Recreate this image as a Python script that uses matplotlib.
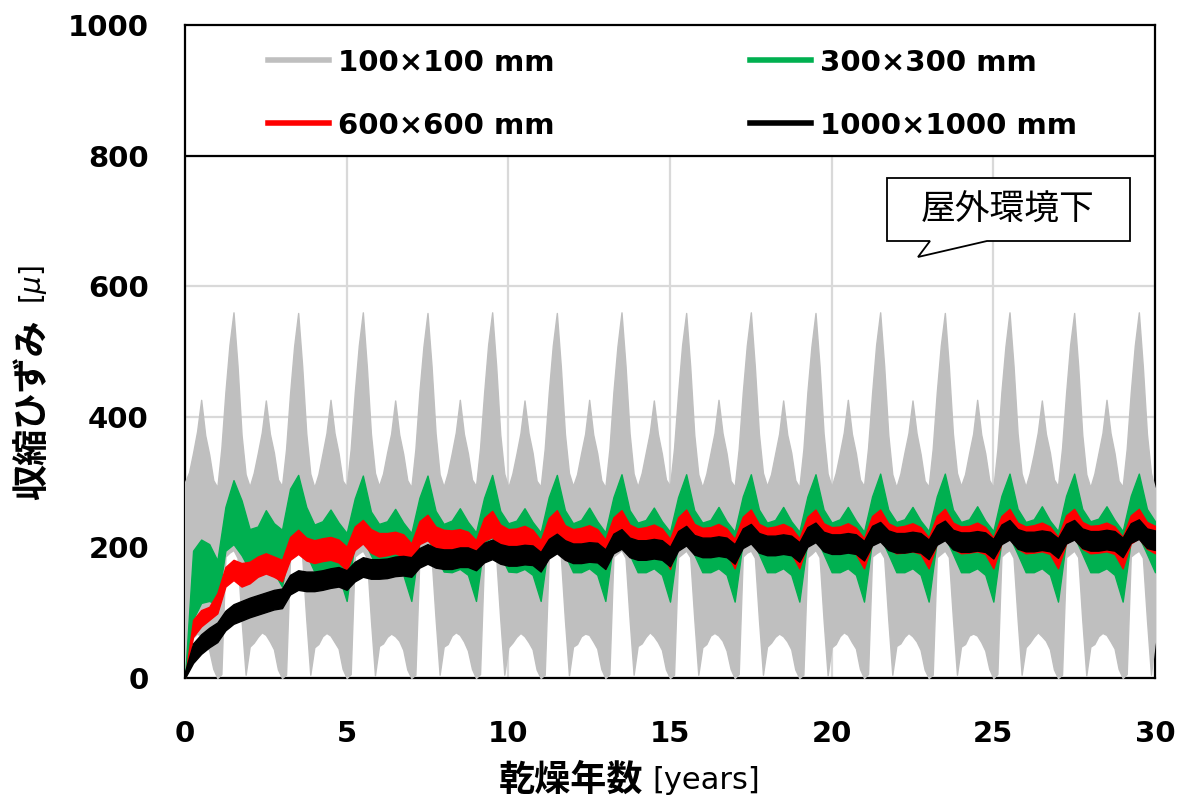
import numpy as np
import matplotlib
matplotlib.use("Agg")
import matplotlib.pyplot as plt
from matplotlib.lines import Line2D
from matplotlib.patches import Rectangle, Polygon

plt.rcParams['font.family'] = ['DejaVu Sans', 'Noto Sans CJK JP']

# ---------------- data ----------------
# time grids [years]
t_gray = np.arange(0, 30.0001, 0.125)
t_band = np.arange(0, 30.0001, 0.25)

# 100x100 mm : envelope (upper / lower) every 1/8 year
gray_hi = [
    300, 315, 345, 378, 426, 372, 342, 303, 292, 352, 438, 510, 560, 478, 372, 312,
    293, 314, 344, 376, 425, 374, 345, 304, 294, 350, 436, 508, 559, 477, 375, 313,
    292, 312, 343, 375, 426, 375, 344, 302, 293, 351, 437, 509, 560, 476, 374, 314,
    294, 313, 345, 374, 425, 373, 343, 303, 292, 350, 438, 508, 559, 478, 375, 312,
    293, 314, 344, 376, 426, 374, 344, 304, 294, 352, 436, 510, 560, 477, 373, 313,
    292, 313, 343, 375, 425, 375, 345, 302, 293, 351, 437, 509, 559, 476, 374, 314,
    294, 312, 344, 374, 426, 373, 344, 303, 292, 350, 438, 508, 560, 478, 375, 313,
    293, 314, 345, 376, 425, 374, 343, 304, 294, 352, 436, 510, 559, 477, 373, 312,
    292, 313, 344, 375, 426, 375, 344, 302, 293, 351, 437, 509, 560, 476, 374, 314,
    294, 312, 343, 374, 425, 373, 345, 303, 292, 350, 438, 508, 559, 478, 375, 313,
    293, 314, 344, 376, 426, 374, 344, 304, 294, 352, 436, 510, 560, 477, 373, 312,
    292, 313, 345, 375, 425, 375, 343, 302, 293, 351, 437, 509, 559, 476, 374, 314,
    294, 312, 344, 374, 426, 373, 344, 303, 292, 350, 438, 508, 560, 478, 375, 313,
    293, 314, 343, 376, 425, 374, 345, 304, 294, 352, 436, 510, 559, 477, 373, 312,
    292, 313, 344, 375, 426, 375, 344, 302, 293, 351, 437, 509, 560, 476, 374, 314,
    290,
]
gray_lo = [
    0, 52, 62, 68, 64, 55, 42, 14, 0, 6, 186, 192, 196, 184, 88, 5,
    48, 54, 63, 70, 66, 56, 44, 13, 0, 5, 185, 190, 195, 185, 90, 5,
    47, 52, 64, 69, 65, 55, 45, 14, 0, 6, 186, 191, 195, 184, 89, 4,
    49, 53, 63, 68, 64, 57, 43, 13, 0, 5, 185, 190, 196, 185, 91, 5,
    48, 52, 65, 70, 66, 56, 42, 14, 0, 6, 186, 192, 195, 184, 90, 5,
    47, 54, 63, 69, 64, 55, 44, 13, 0, 5, 185, 190, 195, 185, 89, 4,
    48, 52, 64, 68, 66, 56, 45, 14, 0, 6, 186, 191, 196, 184, 90, 5,
    49, 53, 63, 70, 64, 55, 43, 13, 0, 5, 185, 190, 195, 185, 91, 5,
    47, 52, 65, 69, 65, 57, 42, 14, 0, 6, 186, 192, 195, 184, 90, 5,
    48, 54, 63, 68, 64, 56, 44, 13, 0, 5, 185, 190, 196, 185, 89, 4,
    47, 52, 64, 70, 66, 55, 45, 14, 0, 6, 186, 191, 195, 184, 90, 5,
    49, 53, 63, 69, 64, 56, 43, 13, 0, 5, 185, 190, 195, 185, 91, 5,
    48, 52, 65, 68, 65, 55, 42, 14, 0, 6, 186, 192, 196, 184, 90, 5,
    47, 54, 63, 70, 64, 57, 44, 13, 0, 5, 185, 190, 195, 185, 89, 4,
    48, 52, 64, 69, 66, 56, 45, 14, 0, 6, 186, 191, 195, 184, 90, 5,
    58,
]

# 300x300 mm : envelope every 1/4 year
green_hi = [
    0, 195, 212, 205, 180, 262, 303, 272,
    228, 232, 257, 237, 227, 290, 311, 262,
    235, 240, 258, 238, 222, 275, 310, 255,
    236, 240, 259, 238, 222, 276, 310, 256,
    236, 241, 260, 239, 223, 276, 311, 256,
    237, 241, 260, 239, 223, 277, 311, 257,
    237, 242, 261, 240, 223, 277, 312, 257,
    238, 242, 261, 240, 224, 277, 312, 257,
    238, 242, 262, 240, 224, 278, 312, 258,
    238, 242, 262, 240, 224, 278, 312, 258,
    238, 243, 262, 241, 224, 278, 313, 258,
    239, 243, 262, 241, 225, 278, 313, 258,
    239, 243, 263, 241, 225, 279, 313, 259,
    239, 243, 263, 241, 225, 279, 313, 259,
    240, 244, 263, 242, 225, 279, 313, 259,
    240,
]
green_lo = [
    0, 90, 115, 118, 112, 195, 205, 188,
    165, 165, 170, 162, 140, 205, 215, 190,
    163, 162, 167, 158, 118, 208, 215, 188,
    163, 162, 167, 158, 118, 208, 215, 188,
    163, 162, 167, 158, 118, 208, 216, 189,
    163, 162, 167, 158, 118, 209, 216, 189,
    162, 162, 168, 158, 118, 209, 216, 189,
    162, 162, 168, 158, 117, 209, 216, 189,
    162, 162, 168, 158, 117, 209, 217, 190,
    162, 162, 168, 158, 117, 210, 217, 190,
    162, 162, 168, 158, 117, 210, 217, 190,
    162, 162, 168, 158, 117, 210, 217, 190,
    162, 162, 168, 158, 117, 210, 217, 190,
    162, 162, 168, 158, 117, 210, 217, 190,
    162, 162, 168, 158, 117, 210, 217, 190,
    162,
]

# 600x600 mm : envelope every 1/4 year
red_hi = [
    0, 89, 104, 109, 130, 170, 181, 176,
    178, 186, 191, 186, 181, 216, 227, 215,
    211, 214, 216, 212, 201, 232, 242, 228,
    222, 222, 224, 220, 206, 240, 250, 232,
    227, 226, 228, 224, 211, 245, 256, 235,
    228, 229, 233, 227, 211, 245, 257, 234,
    228, 230, 234, 228, 212, 246, 257, 235,
    229, 231, 235, 229, 213, 246, 258, 236,
    230, 231, 236, 229, 213, 247, 258, 236,
    230, 232, 236, 230, 214, 247, 258, 237,
    231, 232, 237, 230, 214, 248, 258, 237,
    231, 233, 237, 231, 215, 248, 259, 238,
    232, 233, 238, 231, 215, 248, 259, 238,
    232, 234, 238, 232, 216, 249, 259, 239,
    233, 234, 238, 232, 216, 249, 259, 239,
    233,
]
red_lo = [
    0, 63, 79, 89, 99, 140, 150, 140,
    145, 155, 160, 155, 148, 181, 190, 180,
    176, 179, 181, 177, 165, 196, 206, 192,
    186, 188, 191, 186, 172, 205, 211, 198,
    194, 194, 196, 192, 178, 210, 216, 200,
    195, 197, 199, 194, 167, 209, 217, 202,
    195, 197, 199, 194, 167, 209, 217, 202,
    194, 196, 198, 193, 167, 208, 216, 201,
    193, 194, 196, 192, 168, 207, 215, 199,
    192, 193, 195, 191, 168, 206, 214, 198,
    191, 192, 194, 190, 168, 206, 214, 198,
    191, 192, 194, 190, 168, 206, 214, 198,
    191, 192, 194, 190, 168, 206, 214, 198,
    191, 192, 194, 190, 168, 206, 214, 198,
    191, 192, 194, 190, 168, 206, 214, 198,
    191,
]

# 1000x1000 mm : envelope every 1/4 year
black_hi = [
    10, 53, 67, 77, 85, 103, 113, 118,
    123, 127, 131, 135, 137, 158, 165, 163,
    163, 165, 168, 170, 165, 178, 185, 182,
    182, 183, 186, 187, 185, 199, 205, 199,
    197, 197, 200, 200, 195, 207, 212, 205,
    202, 202, 204, 203, 193, 213, 221, 211,
    206, 206, 208, 207, 197, 221, 228, 215,
    211, 211, 213, 211, 201, 225, 233, 219,
    215, 215, 217, 215, 205, 229, 236, 222,
    218, 218, 220, 218, 208, 231, 238, 224,
    220, 220, 222, 220, 210, 233, 239, 226,
    222, 222, 224, 222, 212, 234, 241, 227,
    223, 223, 225, 223, 213, 235, 242, 228,
    224, 224, 226, 224, 214, 236, 242, 229,
    225, 225, 227, 225, 215, 237, 243, 229,
    226,
]
black_lo = [
    0, 23, 37, 47, 55, 73, 83, 88,
    93, 97, 101, 105, 107, 128, 135, 133,
    133, 135, 138, 140, 135, 148, 155, 152,
    152, 153, 156, 157, 155, 169, 175, 169,
    167, 167, 170, 170, 165, 177, 182, 175,
    172, 172, 174, 173, 163, 183, 191, 181,
    176, 176, 178, 177, 167, 191, 198, 185,
    181, 181, 183, 181, 171, 195, 203, 189,
    185, 185, 187, 185, 175, 199, 206, 192,
    188, 188, 190, 188, 178, 201, 208, 194,
    190, 190, 192, 190, 180, 203, 209, 196,
    192, 192, 194, 192, 182, 204, 211, 197,
    193, 193, 195, 193, 183, 205, 212, 198,
    194, 194, 196, 194, 184, 206, 212, 199,
    195, 195, 197, 195, 185, 207, 213, 199,
    196,
]

series_labels = ["100×100 mm", "300×300 mm", "600×600 mm", "1000×1000 mm"]
series_colors = ["#bfbfbf", "#00b050", "#ff0000", "#000000"]
x_ticks = [0, 5, 10, 15, 20, 25, 30]
y_ticks = [0, 200, 400, 600, 800, 1000]
xlabel_jp = "乾燥年数"
xlabel_unit = "[years]"
ylabel_jp = "収縮ひずみ"
ylabel_unit = r"[$\mu$]"
note_text = "屋外環境下"

# ---------------- figure ----------------
W, H = 1181, 805
fig = plt.figure(figsize=(W / 100, H / 100), dpi=100)
fig.patch.set_facecolor("white")
ax = fig.add_axes([185 / W, 1 - 678 / H, 970 / W, 653 / H])

series = [
    (t_gray, gray_lo, gray_hi),
    (t_band, green_lo, green_hi),
    (t_band, red_lo, red_hi),
    (t_band, black_lo, black_hi),
]
for i, ((t, lo, hi), c) in enumerate(zip(series, series_colors)):
    ax.fill_between(t, lo, hi, color=c, lw=1.0, zorder=3 + i)

ax.set_xlim(0, 30)
ax.set_ylim(0, 1000)
ax.set_xticks(x_ticks)
ax.set_yticks(y_ticks)
ax.grid(True, color="#d9d9d9", lw=1.6)
ax.set_axisbelow(True)
for s in ax.spines.values():
    s.set_linewidth(1.6)
    s.set_color("black")
ax.tick_params(length=0, labelsize=21)
ax.tick_params(axis="y", pad=26)
ax.tick_params(axis="x", pad=30)
for lbl in ax.get_xticklabels() + ax.get_yticklabels():
    lbl.set_fontweight("bold")

# legend box (upper band of the plot area)
ax.add_patch(Rectangle((0, 0.8), 1, 0.2, transform=ax.transAxes,
                       facecolor="white", edgecolor="black", lw=1.6, zorder=10))
handles = [Line2D([], [], color=c, lw=4) for c in series_colors]
order = [0, 2, 1, 3]
leg = ax.legend([handles[i] for i in order], [series_labels[i] for i in order],
                ncol=2, loc="upper left", bbox_to_anchor=(0.0856, 0.964),
                bbox_transform=ax.transAxes, frameon=False, borderpad=0,
                borderaxespad=0, handlelength=2.1, handletextpad=0.3,
                columnspacing=6.7, labelspacing=1.2,
                prop={"family": "DejaVu Sans", "weight": "bold", "size": 21})
leg.set_zorder(11)

# axis labels
fig.text(643 / W, 1 - 780 / H, xlabel_jp, ha="right", va="center", fontsize=26,
         fontweight="bold", family="Noto Sans CJK JP")
fig.text(652 / W, 1 - 780 / H, xlabel_unit, ha="left", va="center", fontsize=22,
         family="DejaVu Sans")
fig.text(33 / W, 1 - 410 / H, ylabel_jp, ha="center", va="center", rotation=90,
         fontsize=26, fontweight="bold", family="Noto Sans CJK JP")
fig.text(33 / W, 1 - 285 / H, ylabel_unit, ha="center", va="center", rotation=90,
         fontsize=20, family="DejaVu Sans")

# callout
pts = [(887, 178), (1130, 178), (1130, 241), (987, 241), (918, 257), (930, 241), (887, 241)]
fig.patches.append(Polygon([(x / W, 1 - y / H) for x, y in pts], closed=True,
                           transform=fig.transFigure, facecolor="white",
                           edgecolor="black", lw=1.3, zorder=20))
fig.text(1008 / W, 1 - 210 / H, note_text, ha="center", va="center", fontsize=25,
         family="Noto Sans CJK JP", zorder=21)

fig.savefig("out.png", dpi=100)
